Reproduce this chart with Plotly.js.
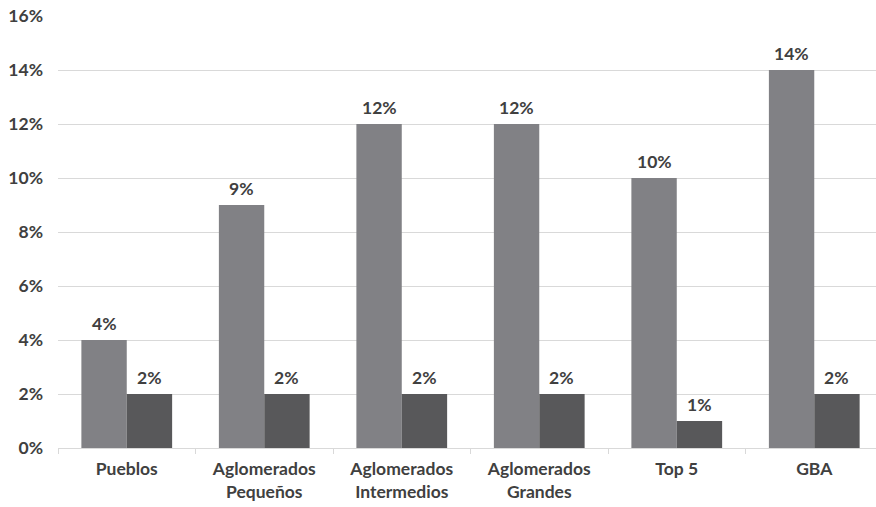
<!DOCTYPE html>
<html>
<head>
<meta charset="utf-8">
<script src="https://cdn.plot.ly/plotly-3.0.1.min.js"></script>
<style>
  html, body { margin: 0; padding: 0; background: #fff; overflow: hidden; }
  #chart { width: 876px; height: 507px; }
</style>
</head>
<body>
<div id="chart"></div>
<script>
// Categories (line breaks in the two-word labels)
const categories = [
  "Pueblos",
  "Aglomerados<br>Pequeños",
  "Aglomerados<br>Intermedios",
  "Aglomerados<br>Grandes",
  "Top 5",
  "GBA"
];

// Percent values for the two series
const seriesA = [4, 9, 12, 12, 10, 14];
const seriesB = [2, 2, 2, 2, 1, 2];

// Y axis ticks
const yTickVals = [0, 2, 4, 6, 8, 10, 12, 14, 16];
const yTickText = ["0%", "2%", "4%", "6%", "8%", "10%", "12%", "14%", "16%"];

const labelFont = { family: "Lato, 'Open Sans', sans-serif", size: 17.5, color: "#404040", weight: 700 };

function barTrace(values, color, offsetgroup) {
  return {
    type: "bar",
    x: categories,
    y: values,
    offsetgroup: offsetgroup,
    marker: { color: color, line: { width: 0 } },
    hoverinfo: "skip"
  };
}

const data = [
  barTrace(seriesA, "#818185", "a"),
  barTrace(seriesB, "#58585a", "b")
];

// Value labels above each bar, placed by category and value
const nGroups = 2, gap = 0.34;
const barW = (1 - gap) / nGroups;
function valueLabels(values, groupIndex) {
  const shift = -(1 - gap) / 2 + barW * (groupIndex + 0.5);
  return values.map((v, i) => ({
    x: i + shift,
    y: v,
    xref: "x",
    yref: "y",
    text: v + "%",
    showarrow: false,
    yanchor: "bottom",
    yshift: 4,
    font: labelFont
  }));
}

const layout = {
  width: 876,
  height: 507,
  margin: { l: 58, r: 0, t: 16, b: 59 },
  paper_bgcolor: "#ffffff",
  plot_bgcolor: "#ffffff",
  showlegend: false,
  barmode: "group",
  bargap: gap,
  bargroupgap: 0,
  font: labelFont,
  annotations: valueLabels(seriesA, 0).concat(valueLabels(seriesB, 1)),
  xaxis: {
    type: "category",
    range: [-0.5, 5.449],
    tickson: "boundaries",
    ticks: "outside",
    ticklen: 5,
    tickcolor: "#d9d9d9",
    tickwidth: 1,
    showline: true,
    linecolor: "#d9d9d9",
    linewidth: 1,
    showgrid: false,
    ticklabelstandoff: 5,
    tickfont: labelFont,
    fixedrange: true
  },
  yaxis: {
    range: [0, 16],
    tickvals: yTickVals,
    ticktext: yTickText,
    showgrid: true,
    gridcolor: "#d9d9d9",
    gridwidth: 1,
    zeroline: false,
    showline: false,
    ticks: "",
    ticklabelstandoff: 14,
    tickfont: labelFont,
    fixedrange: true
  }
};

Plotly.newPlot("chart", data, layout, { displayModeBar: false, staticPlot: true });
</script>
</body>
</html>
